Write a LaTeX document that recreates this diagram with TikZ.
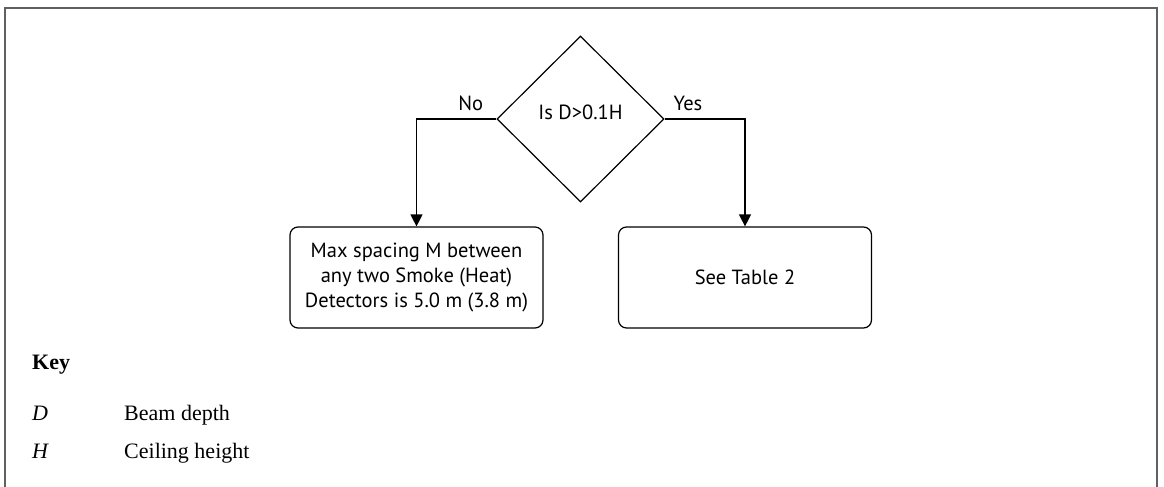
\documentclass[tikz,border=0pt]{standalone}
\usepackage{fontspec}
\usetikzlibrary{shapes.geometric,arrows.meta}
\newfontfamily\flowfont{PT Sans}
\newfontfamily\keyfont{Liberation Serif}
\definecolor{framegray}{HTML}{606060}
\tikzset{
  flowtext/.style={font=\flowfont\fontsize{20.5}{25}\selectfont},
  decision/.style={draw, diamond, line width=1.2pt, inner sep=0pt, aspect=1,
     minimum width=167pt, minimum height=166pt, text height=14pt, text depth=14pt, flowtext},
  resultbox/.style={draw, rectangle, rounded corners=8pt, line width=1.2pt,
     minimum width=253pt, minimum height=101pt, align=center, flowtext},
  conn/.style={line width=1.2pt, -{Triangle[length=12pt,width=12pt]}},
  branchlabel/.style={flowtext, anchor=base},
  keytext/.style={anchor=base west, font=\keyfont\fontsize{22}{26}\selectfont, inner sep=0pt}
}
\begin{document}
\begin{tikzpicture}[x=1pt,y=-1pt]
\useasboundingbox (0,0) rectangle (1164,487);
\draw[framegray, line width=2pt] (4.5,488) -- (4.5,8.5) -- (1156.5,8.5) -- (1156.5,488);

\node[decision] (dia) at (580.5,119) {Is D>0.1H};
\node[resultbox] (lbox) at (416.5,277.5) {Max spacing M between\\any two Smoke (Heat)\\Detectors is 5.0 m (3.8 m)};
\node[resultbox] (rbox) at (745,277.5) {See Table 2};

\draw[conn] (dia.west) -| node[branchlabel, pos=0.16, yshift=8.5pt] {No} (lbox.north);
\draw[conn] (dia.east) -| node[branchlabel, pos=0.145, yshift=8.5pt] {Yes} (rbox.north);

\node[keytext] (key) at (32,369) {\bfseries Key};
\node[keytext] (kd) at (32,420.7) {\itshape D};
\node[keytext] (kdt) at (124,420.7) {Beam depth};
\node[keytext] (kh) at (32,458) {\itshape H};
\node[keytext] (kht) at (124,458) {Ceiling height};
\end{tikzpicture}
\end{document}
